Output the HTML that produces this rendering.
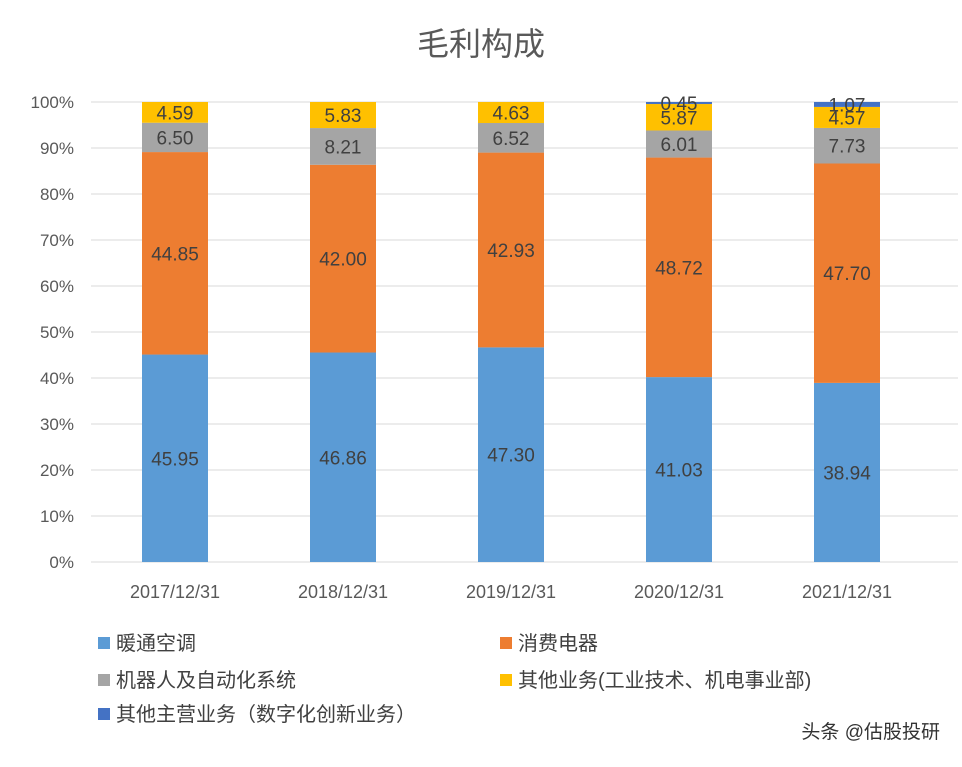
<!DOCTYPE html>
<html><head><meta charset="utf-8">
<style>
body{margin:0;background:#fff;}
svg text{font-family:"Liberation Sans","Noto Sans CJK SC",sans-serif;}
</style></head>
<body>
<svg id="chart" width="962" height="762" xmlns="http://www.w3.org/2000/svg">
<rect width="962" height="762" fill="#fff"/>
<text x="481" y="55" text-anchor="middle" font-size="32" fill="#595959">毛利构成</text>
<g id="grid"></g><g id="bars"></g><g id="labels"></g><g id="axis"></g>
<g id="legend"></g>
<text x="940" y="738" text-anchor="end" font-size="19" fill="#333">头条 @估股投研</text>
</svg>
<script>
const categories=["2017/12/31","2018/12/31","2019/12/31","2020/12/31","2021/12/31"];
const seriesNames=["暖通空调","消费电器","机器人及自动化系统","其他业务(工业技术、机电事业部)","其他主营业务（数字化创新业务）"];
const hvac=[45.95,46.86,47.30,41.03,38.94];
const consumer=[44.85,42.00,42.93,48.72,47.70];
const robotics=[6.50,8.21,6.52,6.01,7.73];
const otherBiz=[4.59,5.83,4.63,5.87,4.57];
const digital=[0,0,0,0.45,1.07];
const tickLabels=["0%","10%","20%","30%","40%","50%","60%","70%","80%","90%","100%"];
const colors=["#5b9bd5","#ed7d31","#a5a5a5","#ffc000","#4472c4"];
const series=[hvac,consumer,robotics,otherBiz,digital];
const NS="http://www.w3.org/2000/svg";
const x0=91,x1=931,gridEnd=958,yTop=102,yBot=562;
const y=p=>yBot-(yBot-yTop)*p/100;
const band=(x1-x0)/categories.length;
const xc=i=>x0+band*(i+0.5);
const bw=66;
function mk(tag,attrs,parent,text){const e=document.createElementNS(NS,tag);for(const k in attrs)e.setAttribute(k,attrs[k]);if(text!==undefined)e.textContent=text;document.getElementById(parent).appendChild(e);return e;}
tickLabels.forEach((t,i)=>{
  const v=i*10;
  const l=mk("line",{x1:x0,x2:gridEnd,y1:y(v),y2:y(v),stroke:"#d9d9d9","stroke-width":1},"grid");
  
  
  const tx=mk("text",{x:74,y:y(v)+6,"text-anchor":"end","font-size":17,fill:"#595959"},"axis",t);
  
  
});
categories.forEach((c,i)=>{
  const tx=mk("text",{x:xc(i),y:598,"text-anchor":"middle","font-size":18,fill:"#595959"},"axis",c);
  
  
  const total=series.reduce((s,a)=>s+a[i],0);
  let cum=0;
  series.forEach((a,si)=>{
    const v=a[i];if(v<=0)return;
    const p0=cum/total*100,p1=(cum+v)/total*100;cum+=v;
    const r=mk("rect",{x:xc(i)-bw/2,y:y(p1),width:bw,height:y(p0)-y(p1),fill:colors[si]},"bars");
    
    
    const lt=mk("text",{x:xc(i),y:(y(p0)+y(p1))/2+7,"text-anchor":"middle","font-size":19,fill:"#404040"},"labels",v.toFixed(2));
    
    
  });
});
const legendPos=[[98,650],[500,650],[98,687],[500,687],[98,721]];
seriesNames.forEach((n,i)=>{
  const [lx,ly]=legendPos[i];
  const s=mk("rect",{x:lx,y:ly-13,width:12,height:12,fill:colors[i]},"legend");
  
  
  const t=mk("text",{x:lx+18,y:ly,"font-size":20,fill:"#404040"},"legend",n);
  
  
});
</script>
</body></html>
